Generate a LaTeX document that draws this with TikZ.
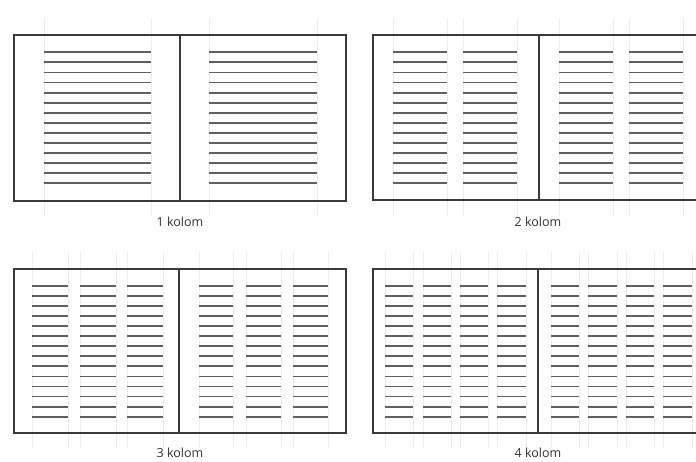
\documentclass[tikz,border=0pt]{standalone}
\usepackage{fontspec}
\setmainfont{Open Sans}
\definecolor{boxc}{HTML}{3A3A3A}
\definecolor{linec}{HTML}{606060}
\definecolor{guidec}{HTML}{EDEDED}
\begin{document}
\begin{tikzpicture}[x=1pt,y=-1pt,
  pagebox/.style={draw=boxc,line width=1.1pt},
  textline/.style={draw=linec,line width=1.8pt},
  guide/.style={draw=guidec,line width=0.6pt},
  caption/.style={font=\fontsize{12.5}{14}\selectfont,text=black!80,inner sep=0pt}]
\useasboundingbox[fill=white] (0,0) rectangle (696,462);
% panel 1
\foreach \a/\b in {44/151,209/317}{
  \draw[guide] (\a,18) -- (\a,216); \draw[guide] (\b,18) -- (\b,216);
  \foreach \i in {0,...,13}{\draw[textline] (\a,52.3+10.08*\i) -- (\b,52.3+10.08*\i);}
}
\draw[pagebox] (14,35) rectangle (346,201);
\draw[pagebox] (180,35) -- (180,201);
\node[caption] (c1) at (180,222) {1 kolom};
% panel 2
\foreach \a/\b in {393/447,463/517,559/613,629/683}{
  \draw[guide] (\a,18) -- (\a,216); \draw[guide] (\b,18) -- (\b,216);
  \foreach \i in {0,...,13}{\draw[textline] (\a,52.3+10.08*\i) -- (\b,52.3+10.08*\i);}
}
\draw[pagebox] (373,35) rectangle (706,200);
\draw[pagebox] (539,35) -- (539,200);
\node[caption] (c2) at (538,222) {2 kolom};
% panel 3
\foreach \a/\b in {32/68,80/116,127/163,199/233,246/281,293/328}{
  \draw[guide] (\a,252) -- (\a,448); \draw[guide] (\b,252) -- (\b,448);
  \foreach \i in {0,...,13}{\draw[textline] (\a,285.7+10.08*\i) -- (\b,285.7+10.08*\i);}
}
\draw[pagebox] (14,269) rectangle (346,433);
\draw[pagebox] (179,269) -- (179,433);
\node[caption] (c3) at (180,453) {3 kolom};
% panel 4
\foreach \a/\b in {385/413,423/451,460/488,497/526,551/579,588/617,626/654,663/692}{
  \draw[guide] (\a,252) -- (\a,448); \draw[guide] (\b,252) -- (\b,448);
  \foreach \i in {0,...,13}{\draw[textline] (\a,285.7+10.08*\i) -- (\b,285.7+10.08*\i);}
}
\draw[pagebox] (373,269) rectangle (706,433);
\draw[pagebox] (538,269) -- (538,433);
\node[caption] (c4) at (538,453) {4 kolom};
\end{tikzpicture}
\end{document}
